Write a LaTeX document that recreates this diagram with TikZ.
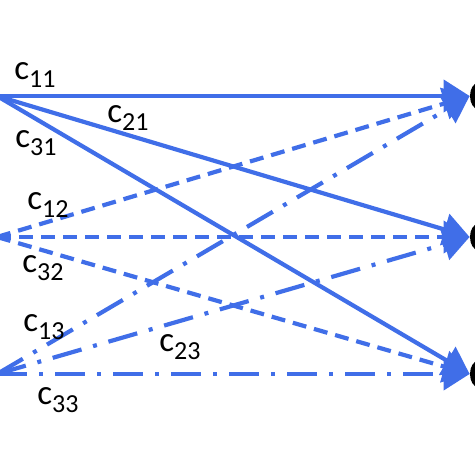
\documentclass[tikz,border=0pt]{standalone}
\usepackage{fontspec}
\setmainfont{Carlito}
\usepackage{xcolor}
\usetikzlibrary{arrows.meta, shapes.geometric}

\definecolor{linkblue}{RGB}{64,110,232}
\newcommand{\clab}[1]{c\raisebox{-0.45ex}{\fontsize{13}{13}\selectfont #1}}

\begin{document}
\begin{tikzpicture}[
    x=0.5pt, y=-0.5pt,
    link/.style={
        linkblue,
        line width=2.1pt,
        -{Triangle[length=13pt,width=16pt]}
    },
    lsolid/.style={link},
    ldash/.style={link, dash pattern=on 7pt off 4pt},
    ldashdot/.style={link, dash pattern=on 15pt off 6pt on 2pt off 6pt},
    target/.style={
        ellipse,
        fill=black,
        inner sep=0pt,
        minimum width=8pt,
        minimum height=13pt
    },
    lab/.style={
        font=\fontsize{17.5}{17.5}\selectfont,
        inner sep=0pt
    }
]
\useasboundingbox (0,0) rectangle (474,474);

% Sources (left edge)
\coordinate (s1) at (-3,96);
\coordinate (s2) at (-3,237);
\coordinate (s3) at (-3,374);

% Targets (right edge, cut off)
\node (t1) [target] at (478,96) {};
\node (t2) [target] at (478,237) {};
\node (t3) [target] at (478,374) {};

% Solid links from s1
\draw[lsolid] (s1) -- (t1.west);
\draw[lsolid] (s1) -- (t2.west);
\draw[lsolid] (s1) -- (t3.west);

% Dashed links from s2
\draw[ldash] (s2) -- (t1.west);
\draw[ldash] (s2) -- (t2.west);
\draw[ldash] (s2) -- (t3.west);

% Dash-dotted links from s3
\draw[ldashdot] (s3) -- (t1.west);
\draw[ldashdot] (s3) -- (t2.west);
\draw[ldashdot] (s3) -- (t3.west);

% Cost labels
\node (c11) [lab] at (35,75) {\clab{11}};
\node (c21) [lab] at (128,118) {\clab{21}};
\node (c31) [lab] at (36,143) {\clab{31}};
\node (c12) [lab] at (48,205) {\clab{12}};
\node (c32) [lab] at (43,268) {\clab{32}};
\node (c13) [lab] at (44,327) {\clab{13}};
\node (c23) [lab] at (180,347) {\clab{23}};
\node (c33) [lab] at (58,400) {\clab{33}};

\end{tikzpicture}
\end{document}
